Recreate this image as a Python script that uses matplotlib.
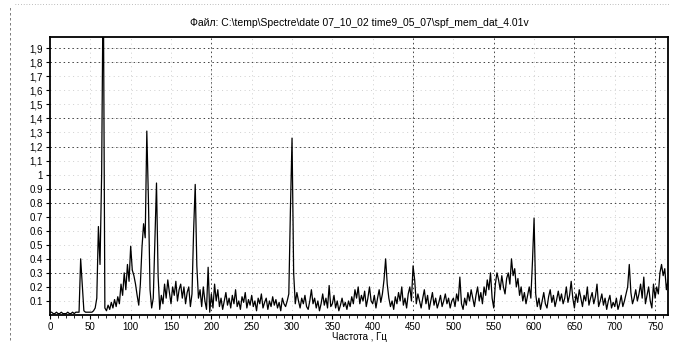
import numpy as np
import matplotlib
matplotlib.use("Agg")
import matplotlib.pyplot as plt
from matplotlib.lines import Line2D

plt.rcParams['font.family'] = ['Liberation Sans', 'DejaVu Sans']

title = "Файл: C:\\temp\\Spectre\\date 07_10_02 time9_05_07\\spf_mem_dat_4.01v"
xlabel = "Частота , Гц"

# Frequencies, Hz (2 Hz step)
freq = np.arange(0, 772, 2)

# Amplitude values, one row per 50 Hz
amp_000 = [0.02, 0.02, 0.01, 0.01, 0.02, 0.01, 0.01, 0.02, 0.01, 0.01, 0.01, 0.02, 0.01,
           0.01, 0.02, 0.01, 0.02, 0.02, 0.02, 0.40, 0.22, 0.03, 0.02, 0.02, 0.02]
amp_050 = [0.02, 0.02, 0.03, 0.05, 0.12, 0.63, 0.36, 1.00, 2.50, 0.05, 0.03, 0.07, 0.04,
           0.09, 0.05, 0.11, 0.06, 0.13, 0.08, 0.22, 0.14, 0.30, 0.18, 0.36, 0.24]
amp_100 = [0.49, 0.32, 0.28, 0.22, 0.14, 0.07, 0.22, 0.48, 0.65, 0.55, 1.31, 0.82, 0.18,
           0.05, 0.12, 0.52, 0.94, 0.28, 0.04, 0.14, 0.08, 0.22, 0.12, 0.25, 0.16]
amp_150 = [0.08, 0.20, 0.14, 0.24, 0.10, 0.18, 0.22, 0.12, 0.20, 0.08, 0.16, 0.20, 0.06,
           0.15, 0.60, 0.93, 0.35, 0.12, 0.18, 0.06, 0.20, 0.10, 0.04, 0.34, 0.02]
amp_200 = [0.15, 0.05, 0.22, 0.10, 0.18, 0.06, 0.12, 0.04, 0.10, 0.16, 0.07, 0.12, 0.05,
           0.14, 0.08, 0.18, 0.06, 0.10, 0.04, 0.13, 0.09, 0.16, 0.05, 0.11, 0.07]
amp_250 = [0.14, 0.06, 0.10, 0.03, 0.12, 0.08, 0.15, 0.05, 0.09, 0.12, 0.04, 0.10, 0.06,
           0.13, 0.07, 0.11, 0.05, 0.09, 0.03, 0.12, 0.08, 0.06, 0.10, 0.15, 0.75]
amp_300 = [1.26, 0.30, 0.08, 0.16, 0.10, 0.05, 0.12, 0.08, 0.14, 0.06, 0.04, 0.10, 0.18,
           0.08, 0.12, 0.05, 0.10, 0.03, 0.08, 0.15, 0.07, 0.12, 0.05, 0.21, 0.06]
amp_350 = [0.08, 0.14, 0.05, 0.10, 0.03, 0.07, 0.12, 0.06, 0.09, 0.04, 0.10, 0.06, 0.13,
           0.08, 0.18, 0.12, 0.20, 0.08, 0.14, 0.10, 0.17, 0.06, 0.12, 0.20, 0.10]
amp_400 = [0.08, 0.14, 0.05, 0.12, 0.18, 0.09, 0.15, 0.25, 0.40, 0.22, 0.12, 0.06, 0.10,
           0.04, 0.13, 0.08, 0.16, 0.10, 0.20, 0.07, 0.12, 0.05, 0.15, 0.20, 0.10]
amp_450 = [0.35, 0.25, 0.08, 0.15, 0.10, 0.05, 0.12, 0.18, 0.08, 0.14, 0.04, 0.10, 0.16,
           0.07, 0.12, 0.05, 0.09, 0.14, 0.06, 0.10, 0.15, 0.08, 0.12, 0.05, 0.10]
amp_500 = [0.12, 0.06, 0.15, 0.10, 0.27, 0.08, 0.04, 0.12, 0.07, 0.16, 0.10, 0.18, 0.12,
           0.06, 0.14, 0.20, 0.10, 0.16, 0.08, 0.20, 0.14, 0.25, 0.18, 0.30, 0.12]
amp_550 = [0.05, 0.22, 0.30, 0.25, 0.18, 0.28, 0.20, 0.15, 0.26, 0.30, 0.22, 0.40, 0.28,
           0.33, 0.20, 0.26, 0.14, 0.20, 0.10, 0.16, 0.08, 0.14, 0.20, 0.12, 0.38]
amp_600 = [0.69, 0.15, 0.06, 0.12, 0.04, 0.10, 0.16, 0.08, 0.05, 0.13, 0.18, 0.09, 0.14,
           0.06, 0.11, 0.17, 0.10, 0.15, 0.08, 0.12, 0.20, 0.09, 0.14, 0.24, 0.12]
amp_650 = [0.05, 0.15, 0.09, 0.18, 0.12, 0.06, 0.14, 0.10, 0.20, 0.07, 0.12, 0.16, 0.08,
           0.13, 0.22, 0.06, 0.10, 0.15, 0.07, 0.12, 0.04, 0.10, 0.14, 0.05, 0.09]
amp_700 = [0.06, 0.12, 0.04, 0.08, 0.14, 0.06, 0.10, 0.15, 0.20, 0.36, 0.16, 0.08, 0.12,
           0.18, 0.10, 0.15, 0.22, 0.12, 0.27, 0.08, 0.14, 0.20, 0.10, 0.05, 0.22]
amp_750 = [0.12, 0.20, 0.15, 0.30, 0.36, 0.28, 0.33, 0.18, 0.25, 0.12, 0.30]

amp = np.array(amp_000 + amp_050 + amp_100 + amp_150 + amp_200 + amp_250 + amp_300 +
               amp_350 + amp_400 + amp_450 + amp_500 + amp_550 + amp_600 + amp_650 +
               amp_700 + amp_750)

xticks = list(range(0, 800, 50))
yticks = [0.1, 0.2, 0.3, 0.4, 0.5, 0.6, 0.7, 0.8, 0.9, 1.0, 1.1, 1.2, 1.3, 1.4, 1.5,
          1.6, 1.7, 1.8, 1.9]
ytick_labels = ["0.1", "0.2", "0.3", "0.4", "0.5", "0.6", "0.7", "0.8", "0.9", "1",
                "1,1", "1,2", "1,3", "1,4", "1,5", "1,6", "1,7", "1,8", "1,9"]
# grid lines that survive clearly in the scanned original
strong_y = [0.3, 0.8, 0.9, 1.2, 1.4, 1.8, 1.9]
strong_x = [200, 450, 550, 650, 750]

fig = plt.figure(figsize=(6.77, 3.45), dpi=100)
ax = fig.add_axes([50/677, 30/345, 618/677, 278/345])

ax.set_xlim(0, 766)
ax.set_ylim(0, 1.98)

ax.set_xticks(xticks)
ax.set_xticklabels([str(t) for t in xticks])
ax.set_xticks(np.arange(0, 770, 10), minor=True)
ax.set_yticks(yticks)
ax.set_yticklabels(ytick_labels)
ax.tick_params(axis='both', labelsize=7, length=3, width=0.8, pad=2)
ax.tick_params(axis='x', which='minor', length=2, width=0.6)

ax.grid(True, which='major', linestyle=(0, (1.5, 5)), color='black', lw=0.5, alpha=0.25)
for yv in strong_y:
    ax.axhline(yv, linestyle=(0, (1.5, 3)), color='black', lw=0.7, alpha=0.7, zorder=1)
for xv in strong_x:
    ax.axvline(xv, linestyle=(0, (1.5, 3)), color='black', lw=0.7, alpha=0.7, zorder=1)

ax.plot(freq, amp, color='black', lw=0.9, zorder=3)

for s in ax.spines.values():
    s.set_linewidth(1.3)

ax.set_title(title, fontsize=7.5, pad=8)
ax.set_xlabel(xlabel, fontsize=7, labelpad=0)

# scan page border marks
fig.add_artist(Line2D([10/677, 10/677], [5/345, 340/345], transform=fig.transFigure,
                      color='black', lw=0.6, linestyle=(0, (3, 3)), alpha=0.6))
fig.add_artist(Line2D([15/677, 670/677], [341/345, 341/345], transform=fig.transFigure,
                      color='black', lw=0.5, linestyle=(0, (1, 3)), alpha=0.5))

fig.savefig("out.png", dpi=100)
